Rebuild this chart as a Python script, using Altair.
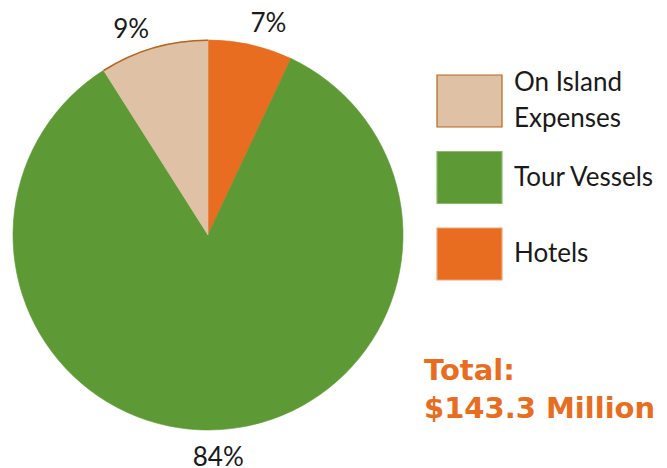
import altair as alt
import pandas as pd
import math

categories = ["Hotels", "Tour Vessels", "On Island Expenses"]
shares = [7, 84, 9]
pct_labels = ["7%", "84%", "9%"]
colors = ["#E86D21", "#5D9934", "#DFC2A5"]
rim_colors = ["transparent", "transparent", "#B8651E"]

legend_order = ["On Island Expenses", "Tour Vessels", "Hotels"]
legend_lines = [["On Island", "Expenses"], ["Tour Vessels"], ["Hotels"]]
legend_fill = ["#DFC2A5", "#5D9934", "#E86D21"]
legend_stroke = ["#B8651E", "#8DBB6E", "#F2A47A"]

total_lines = ["Total:", "$143.3 Million"]

FONT = "Lato"
TWO_PI = 2 * math.pi

pie_df = pd.DataFrame({
    "cat": categories,
    "share": shares,
    "label": pct_labels,
    "ord": list(range(len(categories))),
})

cx, cy = 200, 227

base = alt.Chart(pie_df).encode(
    theta=alt.Theta("share:Q", stack=True),
    order=alt.Order("ord:Q"),
    x=alt.value(cx),
    y=alt.value(cy),
)

arcs = base.mark_arc(outerRadius=195, strokeWidth=0.6).encode(
    color=alt.Color("cat:N", scale=alt.Scale(domain=categories, range=colors), legend=None),
    stroke=alt.Stroke("cat:N", scale=alt.Scale(domain=categories, range=colors), legend=None),
)

rim = base.mark_arc(innerRadius=194, outerRadius=195.6).encode(
    color=alt.Color("cat:N", scale=alt.Scale(domain=categories, range=rim_colors), legend=None),
)

# label angles: slice mid-angle, nudged sideways away from the top/bottom
labels = alt.Chart(pie_df).transform_window(
    cum="sum(share)", sort=[alt.SortField("ord")]
).transform_joinaggregate(
    tot="sum(share)"
).transform_calculate(
    mid=f"(datum.cum - datum.share / 2) / datum.tot * {TWO_PI}"
).transform_calculate(
    ang="datum.mid + 0.26 * sin(datum.mid)"
).mark_text(radius=221, dy=2, fontSize=26, font=FONT, color="#1a1a1a").encode(
    theta=alt.Theta("ang:Q", scale=alt.Scale(domain=[0, TWO_PI], range=[0, TWO_PI]), stack=None),
    x=alt.value(cx),
    y=alt.value(cy),
    text="label:N",
)

leg_df = pd.DataFrame({
    "cat": legend_order,
    "rank": list(range(len(legend_order))),
})

yscale = alt.Scale(domain=[0, 2], range=[93, 246])

swatches = alt.Chart(leg_df).mark_point(
    shape="M-1,-0.8H1V0.8H-1Z", size=4225, filled=True, opacity=1, strokeWidth=1.2
).encode(
    x=alt.value(461.5),
    y=alt.Y("rank:Q", scale=yscale, axis=None),
    fill=alt.Fill("cat:N", scale=alt.Scale(domain=legend_order, range=legend_fill), legend=None),
    stroke=alt.Stroke("cat:N", scale=alt.Scale(domain=legend_order, range=legend_stroke), legend=None),
)

rows = []
for r, lines in enumerate(legend_lines):
    for i, t in enumerate(lines):
        rows.append({"rank": r, "line": i, "n": len(lines), "text": t})
lt_df = pd.DataFrame(rows)

leg_text = alt.Chart(lt_df).transform_calculate(
    ypos="datum.rank + (datum.line - (datum.n - 1) / 2) * 0.458"
).mark_text(
    align="left", baseline="middle", fontSize=26, font=FONT, color="#1a1a1a"
).encode(
    x=alt.value(506),
    y=alt.Y("ypos:Q", scale=yscale, axis=None),
    text="text:N",
)

tot_df = pd.DataFrame({"text": ["\n".join(total_lines)]})
total = alt.Chart(tot_df).mark_text(
    align="left", baseline="middle", fontSize=29, font="DejaVu Sans", fontWeight="bold",
    lineBreak="\n", lineHeight=38, color="#E86D21"
).encode(
    x=alt.value(416),
    y=alt.value(363),
    text="text:N",
)

chart = alt.layer(arcs, rim, labels, swatches, leg_text, total).resolve_scale(
    theta="independent", color="independent", fill="independent",
    stroke="independent", y="independent"
).properties(
    width=651, height=460, padding=0, autosize=alt.AutoSizeParams(type="none")
).configure_view(stroke=None)

chart.save("out.html", embed_options={"renderer": "svg", "actions": False})
